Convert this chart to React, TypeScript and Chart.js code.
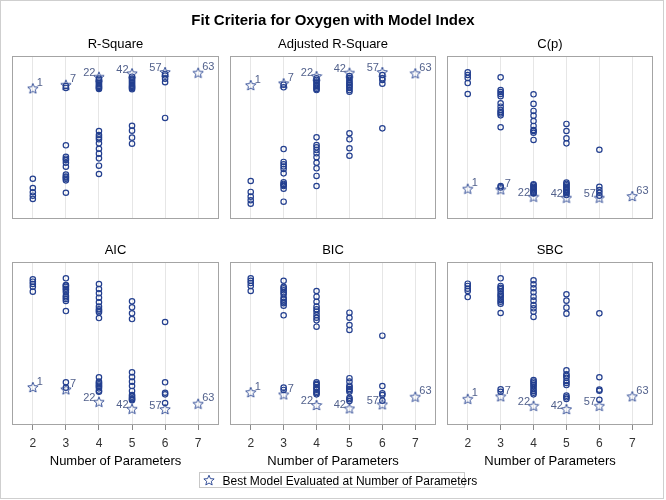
import React, { useEffect, useRef } from 'react';
import { Chart, registerables } from 'chart.js';

Chart.register(...registerables);

// ---------------- data ----------------
const NPARAMS = [2, 3, 4, 5, 6, 7];
const X_TICKS = [2, 3, 4, 5, 6, 7];
const BEST_MODEL = [1, 7, 22, 42, 57, 63];

// values (relative units, y axis is unlabeled)
const RSQ_BEST = [80.2, 82.4, 87.3, 89.4, 90.2, 89.8];
const RSQ_OTHER = [
  [24.7, 19.0, 16.4, 14.3, 12.3],
  [81.6, 80.4, 45.2, 38.2, 37.0, 36.2, 34.5, 32.1, 27.2, 26.0, 25.5, 24.7, 23.7, 16.1],
  [86.2, 85.3, 84.4, 83.4, 82.5, 81.6, 81.0, 80.4, 79.8, 54.0, 51.5, 50.1, 48.9, 46.4, 43.1, 40.1, 37.2, 32.7, 27.6],
  [87.3, 86.2, 85.3, 84.4, 83.4, 82.5, 81.6, 81.0, 80.4, 79.6, 57.2, 54.2, 49.9, 46.2],
  [89.0, 88.0, 86.1, 83.9, 62.0],
  [],
];

const ADJRSQ_BEST = [82.2, 83.3, 87.7, 89.8, 90.2, 89.4];
const ADJRSQ_OTHER = [
  [23.3, 16.6, 13.7, 11.5, 9.4],
  [82.4, 80.8, 42.9, 35.0, 33.6, 32.2, 30.7, 28.0, 22.5, 21.5, 20.9, 20.2, 18.6, 10.6],
  [86.3, 85.3, 84.4, 83.4, 82.5, 81.6, 80.7, 79.8, 79.1, 50.1, 45.4, 44.0, 42.3, 40.3, 37.9, 34.5, 31.1, 26.4, 20.2],
  [87.7, 86.5, 85.3, 84.0, 83.1, 82.2, 81.3, 80.4, 79.1, 78.1, 52.6, 48.9, 43.4, 38.8],
  [88.3, 86.3, 85.3, 83.0, 55.6],
  [],
];

const CP_BEST = [18.6, 18.2, 13.7, 13.1, 13.1, 14.1];
const CP_OTHER = [
  [90.0, 88.3, 86.5, 83.4, 76.7],
  [86.9, 79.1, 77.9, 76.7, 75.3, 71.0, 68.9, 66.9, 65.6, 64.8, 63.6, 56.3, 20.2, 19.4],
  [76.5, 70.6, 66.3, 63.4, 60.1, 57.1, 54.6, 54.0, 52.9, 48.5, 21.3, 20.6, 19.8, 19.0, 18.2, 17.5, 16.7, 16.0, 15.6],
  [58.3, 54.0, 49.5, 46.4, 22.3, 21.5, 20.7, 19.8, 19.0, 18.2, 17.4, 16.6, 15.8, 14.7],
  [42.5, 19.8, 17.8, 16.1, 14.3],
  [],
];

const AIC_BEST = [23.3, 21.9, 14.3, 10.0, 9.8, 13.1];
const AIC_OTHER = [
  [89.4, 87.9, 86.5, 84.8, 81.8],
  [90.0, 85.9, 85.5, 84.7, 83.6, 82.8, 81.4, 79.3, 78.3, 77.3, 76.1, 69.9, 26.2, 22.9],
  [86.5, 83.4, 80.8, 78.1, 75.3, 72.6, 71.0, 70.1, 69.1, 65.6, 29.3, 26.6, 25.8, 25.0, 24.1, 23.5, 22.5, 21.0, 20.4],
  [75.9, 72.2, 68.5, 65.0, 32.3, 29.4, 26.6, 23.9, 20.9, 18.4, 17.4, 16.4, 15.8, 15.2],
  [63.2, 26.2, 19.8, 18.8, 13.5],
  [],
];

const BIC_BEST = [20.2, 18.8, 12.3, 10.2, 12.7, 17.4];
const BIC_OTHER = [
  [90.0, 88.5, 87.1, 85.3, 82.2],
  [88.5, 84.8, 83.9, 82.6, 81.4, 80.2, 78.1, 76.9, 75.6, 74.7, 73.2, 67.3, 22.9, 21.5],
  [82.2, 78.7, 75.6, 72.6, 71.0, 69.5, 67.5, 65.8, 64.2, 60.3, 26.2, 25.3, 24.5, 23.1, 22.5, 21.7, 20.4, 19.6, 18.8],
  [68.9, 65.8, 61.3, 58.3, 28.7, 26.6, 24.1, 23.3, 22.1, 21.3, 20.4, 16.7, 15.8, 14.7],
  [54.8, 23.9, 19.4, 18.4, 14.9],
  [],
];

const SBC_BEST = [16.1, 17.6, 11.8, 9.8, 11.8, 17.6];
const SBC_OTHER = [
  [86.7, 85.3, 83.6, 82.2, 78.5],
  [90.0, 85.3, 84.2, 83.3, 81.8, 80.2, 79.3, 78.1, 76.7, 75.6, 74.4, 68.7, 21.9, 20.4],
  [88.8, 86.3, 83.9, 81.4, 78.7, 76.3, 73.6, 71.6, 69.5, 66.3, 27.6, 26.6, 25.6, 24.5, 23.5, 22.1, 20.9, 19.8, 18.8],
  [80.2, 76.3, 72.0, 68.3, 33.6, 31.1, 30.1, 29.0, 27.0, 25.8, 24.5, 18.0, 17.0, 16.0],
  [68.5, 29.3, 21.7, 21.0, 15.5],
  [],
];

const PANEL_TITLES = ['R-Square', 'Adjusted R-Square', 'C(p)', 'AIC', 'BIC', 'SBC'];
const TITLE = 'Fit Criteria for Oxygen with Model Index';
const X_TITLE = 'Number of Parameters';
const LEGEND_LABEL = 'Best Model Evaluated at Number of Parameters';

// ---------------- layout / style ----------------
const W = 666;
const H = 500;
const COLS = [
  [12, 219],
  [230, 436],
  [447, 653],
];
const ROWS = [
  [56, 219],
  [262, 425],
];
const MARK = '#233f8f';
const LABEL = '#52618c';
const FONT = '"Liberation Sans", Arial, Helvetica, sans-serif';

function makeStar(size: number, color: string) {
  const c = document.createElement('canvas');
  c.width = size;
  c.height = size;
  const g = c.getContext('2d')!;
  const cx = size / 2;
  const cy = size / 2 + 0.6;
  const ro = size / 2 - 0.6;
  const ri = ro * 0.45;
  g.beginPath();
  for (let i = 0; i < 10; i++) {
    const r = i % 2 === 0 ? ro : ri;
    const a = -Math.PI / 2 + (i * Math.PI) / 5;
    const x = cx + r * Math.cos(a);
    const y = cy + r * Math.sin(a);
    if (i === 0) g.moveTo(x, y);
    else g.lineTo(x, y);
  }
  g.closePath();
  g.strokeStyle = color;
  g.lineWidth = 0.9;
  g.stroke();
  return c;
}

const decoPlugin = {
  id: 'deco',
  afterDraw(chart: any, _args: any, opts: any) {
    const { ctx, chartArea: a } = chart;
    const xs = chart.scales.x;
    const ys = chart.scales.y;
    ctx.save();
    // frame
    ctx.strokeStyle = '#a4a4a4';
    ctx.lineWidth = 1;
    ctx.strokeRect(Math.round(a.left) + 0.5, Math.round(a.top) + 0.5, Math.round(a.right - a.left) - 1, Math.round(a.bottom - a.top) - 1);
    // header
    ctx.fillStyle = '#000';
    ctx.font = `13px ${FONT}`;
    ctx.textAlign = 'center';
    ctx.textBaseline = 'alphabetic';
    ctx.fillText(opts.header, (a.left + a.right) / 2, a.top - 8.5);
    if (opts.bottomRow) {
      ctx.fillText(X_TITLE, (a.left + a.right) / 2, 464.5);
      // tick labels from the x scale
      ctx.font = `12px ${FONT}`;
      ctx.fillStyle = '#333';
      X_TICKS.forEach((v) => {
        ctx.fillText(String(v), xs.getPixelForValue(v), a.bottom + 22);
      });
    }
    // star labels
    ctx.font = `11px ${FONT}`;
    ctx.fillStyle = LABEL;
    opts.best.forEach((v: number, i: number) => {
      const px = xs.getPixelForValue(NPARAMS[i]);
      const py = ys.getPixelForValue(v);
      const txt = String(BEST_MODEL[i]);
      if (i >= 2 && i <= 4) {
        ctx.textAlign = 'right';
        ctx.fillText(txt, px - 3.5, py - 0.5);
      } else {
        ctx.textAlign = 'left';
        ctx.fillText(txt, px + 4, py - 2.5);
      }
    });
    if (opts.global) {
      // outer border
      ctx.strokeStyle = '#cfcfcf';
      ctx.strokeRect(0.5, 0.5, W - 3, H - 2);
      // title
      ctx.fillStyle = '#000';
      ctx.font = `bold 15px ${FONT}`;
      ctx.textAlign = 'center';
      ctx.fillText(TITLE, W / 2, 24.5);
      // legend
      ctx.strokeStyle = '#c8c8c8';
      ctx.strokeRect(199.5, 472.5, 265, 15);
      ctx.drawImage(opts.star, 209 - opts.star.width / 2, 480 - opts.star.height / 2);
      ctx.font = `12px ${FONT}`;
      ctx.textAlign = 'left';
      ctx.fillStyle = '#000';
      ctx.fillText(LEGEND_LABEL, 222.5, 485);
    }
    ctx.restore();
  },
};

function Panel({ idx, others, best }: { idx: number; others: number[][]; best: number[] }) {
  const ref = useRef<HTMLCanvasElement>(null);
  useEffect(() => {
    const col = idx % 3;
    const row = Math.floor(idx / 3);
    const [l, r] = COLS[col];
    const [t, b] = ROWS[row];
    const bottomRow = row === 1;
    const star = makeStar(12, MARK);
    const otherPts = others.flatMap((vals, i) => vals.map((v) => ({ x: NPARAMS[i], y: v })));
    const bestPts = best.map((v, i) => ({ x: NPARAMS[i], y: v }));
    const chart = new Chart(ref.current!, {
      type: 'scatter',
      data: {
        datasets: [
          {
            data: otherPts,
            pointStyle: 'circle',
            pointRadius: 2.7,
            borderWidth: 1.2,
            borderColor: MARK,
            backgroundColor: 'rgba(0,0,0,0)',
          },
          {
            data: bestPts,
            pointStyle: star as any,
            pointRadius: 6,
            borderColor: MARK,
            backgroundColor: 'rgba(0,0,0,0)',
          },
        ],
      },
      options: {
        animation: false,
        responsive: false,
        devicePixelRatio: 1,
        events: [],
        layout: { padding: { left: l, right: W - r, top: t, bottom: H - b } },
        scales: {
          x: {
            type: 'linear',
            min: 1.37,
            max: 7.63,
            afterBuildTicks: (s: any) => {
              s.ticks = X_TICKS.map((v) => ({ value: v }));
            },
            afterFit: (s: any) => {
              s.height = 0;
            },
            border: { display: false },
            grid: {
              color: '#e6e6e6',
              drawTicks: bottomRow,
              tickLength: 5,
              tickColor: '#8a8a8a',
            },
            ticks: { display: false },
          },
          y: { type: 'linear', min: 0, max: 100, display: false },
        },
        plugins: {
          legend: { display: false },
          tooltip: { enabled: false },
          deco: {
            header: PANEL_TITLES[idx],
            bottomRow,
            best,
            global: idx === 0,
            star,
          },
        } as any,
      },
      plugins: [decoPlugin],
    });
    return () => chart.destroy();
  }, [idx, others, best]);
  return (
    <canvas
      ref={ref}
      width={W}
      height={H}
      style={{ position: 'absolute', left: 0, top: 0, width: W, height: H }}
    />
  );
}

export default function App() {
  const panels = [
    { others: RSQ_OTHER, best: RSQ_BEST },
    { others: ADJRSQ_OTHER, best: ADJRSQ_BEST },
    { others: CP_OTHER, best: CP_BEST },
    { others: AIC_OTHER, best: AIC_BEST },
    { others: BIC_OTHER, best: BIC_BEST },
    { others: SBC_OTHER, best: SBC_BEST },
  ];
  return (
    <div style={{ position: 'absolute', left: 0, top: 0, width: W, height: H, background: '#fff' }}>
      {panels.map((p, i) => (
        <Panel key={i} idx={i} others={p.others} best={p.best} />
      ))}
    </div>
  );
}
